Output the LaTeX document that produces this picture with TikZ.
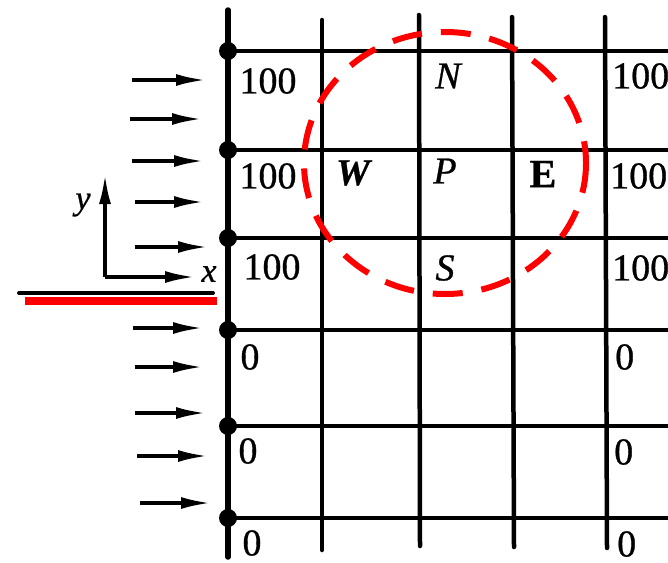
\documentclass[tikz,border=0pt]{standalone}
\usepackage{fontspec}
\setmainfont{Liberation Serif}[FakeBold=0.8]
\usetikzlibrary{arrows.meta}
\begin{document}
\begin{tikzpicture}[x=1pt,y=-1pt,
  gridline/.style={line width=4.5pt, line cap=round},
  wall/.style={line width=5.5pt, line cap=round},
  flow/.style={line width=3.5pt, -{Latex[length=30pt,width=12pt]}},
  axis/.style={line width=3.5pt, -{Latex[length=30pt,width=12pt]}},
  lbl/.style={font=\fontsize{38}{40}\selectfont, inner sep=0pt},
  axlbl/.style={font=\fontsize{34}{36}\selectfont\itshape, inner sep=0pt},
  nodedot/.style={fill=black, circle, inner sep=0pt, minimum size=18pt},
  zone/.style={red, line width=6pt, dash pattern=on 30pt off 19pt}]
\useasboundingbox (0,0) rectangle (668,562);
\begin{scope}
\clip (0,0) rectangle (668,562);
% horizontal grid lines
\foreach \yy in {51,150,238,330,426,518}
  \draw[gridline] (228,\yy) -- (675,\yy);
% vertical grid lines
\draw[gridline] (322,20) -- (322,550);
\draw[gridline] (419,15) -- (420,546);
\draw[gridline] (512,17) -- (514,547);
\draw[gridline] (605,17) -- (607,548);
% left wall
\draw[wall] (228,10) -- (228,557);
\foreach \yy/\nm in {51/d1,150/d2,238/d3,330/d4,426/d5,518/d6}
  \node[nodedot] (\nm) at (228,\yy) {};
% inflow arrows
\foreach \ya/\xa/\xb [count=\i] in {80/132/206,119/130/202,161/132/204,202/135/204,247/135/208,
   328/133/203,367/135/203,413/135/206,456/137/208,503/140/211}{
  \coordinate (s\i) at (\xa,\ya);
  \coordinate (e\i) at (\xb,\ya);
  \draw[flow] (s\i) -- (e\i);
}
% axes
\coordinate (o) at (105,277);
\coordinate (ytip) at (105,174);
\coordinate (xtip) at (195,277);
\draw[axis] (o) -- (ytip);
\draw[axis] (o) -- (xtip);
\node[axlbl] (ylab) at (83,205) {y};
\node[axlbl] (xlab) at (209,274) {x};
% plate
\draw[line width=4pt, line cap=round] (19,293) -- (213,293);
\fill[red] (25,297) rectangle (217,305);
% values left
\node[lbl] (a1) at (268,81) {100};
\node[lbl] (a2) at (268,176) {100};
\node[lbl] (a3) at (272,267) {100};
\node[lbl] (a4) at (250,357) {0};
\node[lbl] (a5) at (248,451) {0};
\node[lbl] (a6) at (252,543) {0};
% values right
\node[lbl, anchor=west] (b1) at (612,76) {100};
\node[lbl, anchor=west] (b2) at (610,176) {100};
\node[lbl, anchor=west] (b3) at (612,268) {100};
\node[lbl, anchor=west] (b4) at (615,357) {0};
\node[lbl, anchor=west] (b5) at (614,452) {0};
\node[lbl, anchor=west] (b6) at (617,544) {0};
% stencil letters
\node[lbl, font=\fontsize{38}{40}\selectfont\itshape] (N) at (448,76) {N};
\node[lbl, font=\fontsize{38}{40}\selectfont\bfseries\itshape] (W) at (353,173) {W};
\node[lbl, font=\fontsize{38}{40}\selectfont\itshape] (P) at (445,171) {P};
\node[lbl, font=\fontsize{40}{42}\selectfont\bfseries] (E) at (543,174) {E};
\node[lbl, font=\fontsize{38}{40}\selectfont\itshape] (S) at (445,268) {S};
% red dashed control zone
\draw[zone] (445,163) ellipse [x radius=141, y radius=131];
\end{scope}
\end{tikzpicture}
\end{document}
